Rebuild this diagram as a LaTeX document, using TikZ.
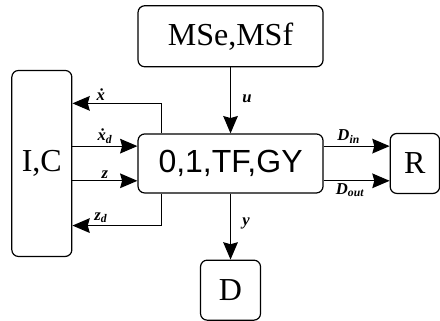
\documentclass[tikz,border=0pt]{standalone}
\usepackage{fontspec}
\setmainfont{Liberation Serif}
\newfontfamily\timesfont{Liberation Serif}
\newfontfamily\arialfont{Liberation Sans}
\usetikzlibrary{arrows.meta,positioning,calc}

\begin{document}
\begin{tikzpicture}[
          blk/.style={draw, rounded corners=5pt, line width=0.9pt, inner sep=0pt, font=\timesfont\fontsize{24}{28}\selectfont},
          lbl/.style={font=\timesfont\fontsize{12.5}{14}\selectfont\bfseries\itshape, inner sep=1.5pt},
          arr/.style={-{Stealth[length=13pt, width=11pt, inset=1.5pt]}, line width=0.9pt}]
        \useasboundingbox (0,0) rectangle (330pt,-240.75pt);
        \node[blk, minimum width=138.75pt, minimum height=44.25pt, font=\arialfont\fontsize{24}{28}\selectfont] (sys) at (172.9pt,-122.6pt) {0,1,TF,GY};
        \node[blk, minimum width=138.75pt, minimum height=45.75pt, above=49.5pt of sys] (src) {MSe,MSf};
        \node[blk, minimum width=45pt, minimum height=139.5pt, left=48.75pt of sys] (ic) {I,C};
        \node[blk, minimum width=37pt, minimum height=45pt, right=49.5pt of sys] (r) {R};
        \node[blk, minimum width=45pt, minimum height=45pt, below=49.5pt of sys] (d) {D};
        \coordinate (xdd) at ($(sys.west)+(0,13pt)$);
        \coordinate (zz) at ($(sys.west)+(0,-13pt)$);
        \coordinate (din) at ($(sys.east)+(0,13pt)$);
        \coordinate (dout) at ($(sys.east)+(0,-13pt)$);
        \draw[arr] (src) -- node[lbl, right=7pt, pos=0.48] {u} (sys);
        \draw[arr] (sys) -- node[lbl, right=7pt, pos=0.45] {y} (d);
        \draw[arr] ([xshift=18pt]sys.north west) |- node[lbl, above, pos=0.84] {\.{x}} ($(ic.east |- sys.north)+(0,22.5pt)$);
        \draw[arr] (ic.east |- xdd) -- node[lbl, above] {\.{x}\textsubscript{d}} (xdd);
        \draw[arr] (ic.east |- zz) -- node[lbl, above] {z} (zz);
        \draw[arr] ([xshift=18pt]sys.south west) |- node[lbl, above, pos=0.84] {z\textsubscript{d}} ($(ic.east |- sys.south)+(0,-24pt)$);
        \draw[arr] (din) -- node[lbl, above, pos=0.38] {D\textsubscript{in}} (r.west |- din);
        \draw[arr] (dout) -- node[lbl, below, pos=0.4] {D\textsubscript{out}} (r.west |- dout);
      \end{tikzpicture}
\end{document}
